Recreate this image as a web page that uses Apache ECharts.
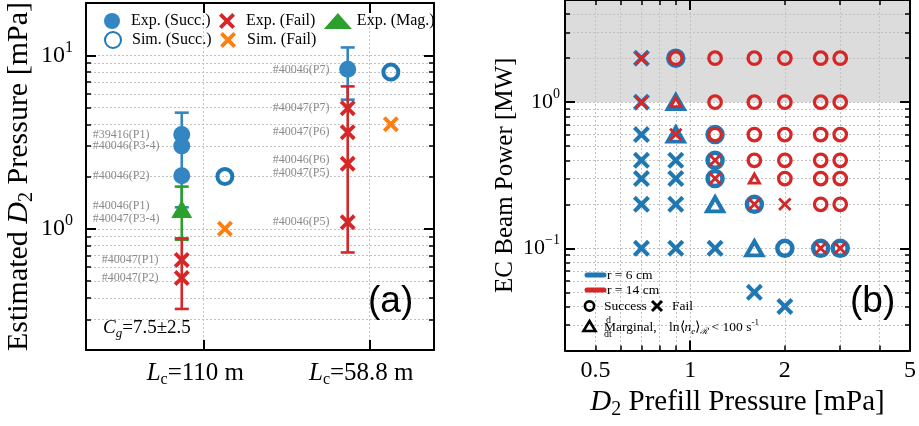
<!DOCTYPE html>
<html><head><meta charset="utf-8">
<script src="https://cdn.jsdelivr.net/npm/echarts@6.0.0/dist/echarts.min.js"></script>
<style>html,body{margin:0;padding:0;background:#fff}#c{width:919px;height:426px}</style>
</head><body><div id="c"></div>
<script>
// ---------------- Panel (a) data ----------------
const lengthCats = ['110 m', '58.8 m'];
const expSuccCat = [0, 0, 0, 1];
const expSuccVal = [3.5, 3.0, 2.02, 8.3];
const expSuccShot = ['#39416(P1)', '#40046(P3-4)', '#40046(P2)', '#40046(P7)'];
const expFailCat = [0, 0, 1, 1, 1, 1];
const expFailVal = [0.66, 0.52, 4.96, 3.6, 2.37, 1.09];
const expFailShot = ['#40047(P1)', '#40047(P2)', '#40047(P7)', '#40047(P6)', '#40046(P6)\n#40047(P5)', '#40046(P5)'];
const expMagCat = [0];
const expMagVal = [1.3];
const expMagShot = ['#40046(P1)\n#40047(P3-4)'];
const simSuccCat = [0, 1];
const simSuccVal = [2.0, 8.0];
const simFailCat = [0, 1];
const simFailVal = [1.0, 4.0];
const errBlueCat = [0, 1];
const errBlueLow = [1.33, 5.55];
const errBlueHigh = [4.67, 11.1];
const errGreenCat = [0];
const errGreenLow = [0.865];
const errGreenHigh = [1.75];
const errRedCat = [0, 1];
const errRedLow = [0.345, 0.73];
const errRedHigh = [0.88, 6.62];
const yMajorA = [1, 10];
const yMinorA = [0.2, 0.3, 0.4, 0.5, 0.6, 0.7, 0.8, 0.9, 1, 2, 3, 4, 5, 6, 7, 8, 9, 10, 20];

// ---------------- Panel (b) data ----------------
const r6SuccP = [0.9, 1.2, 1.2, 1.2, 1.6, 2.0, 2.6, 3.0];
const r6SuccW = [2, 0.6, 0.4, 0.3, 0.2, 0.1, 0.1, 0.1];
const r6FailP = [0.7, 0.7, 0.7, 0.7, 0.7, 0.7, 0.7, 0.9, 0.9, 0.9, 0.9, 1.2, 1.6, 2.0];
const r6FailW = [2, 1, 0.6, 0.4, 0.3, 0.2, 0.1, 0.4, 0.3, 0.2, 0.1, 0.1, 0.05, 0.04];
const r6MargP = [0.9, 0.9, 1.2, 1.6];
const r6MargW = [1, 0.6, 0.2, 0.1];
const r14SuccP = [0.9, 1.2, 1.2, 1.2, 1.6, 1.6, 1.6, 1.6, 2.0, 2.0, 2.0, 2.0, 2.0,
                  2.6, 2.6, 2.6, 2.6, 2.6, 2.6, 3.0, 3.0, 3.0, 3.0, 3.0, 3.0];
const r14SuccW = [2, 2, 1, 0.6, 2, 1, 0.6, 0.4, 2, 1, 0.6, 0.4, 0.3,
                  2, 1, 0.6, 0.4, 0.3, 0.2, 2, 1, 0.6, 0.4, 0.3, 0.2];
const r14FailP = [0.7, 0.7, 0.9, 1.2, 1.2, 1.6, 2.0, 2.6, 3.0];
const r14FailW = [2, 1, 0.6, 0.4, 0.3, 0.2, 0.2, 0.1, 0.1];
const r14MargP = [0.9, 1.6];
const r14MargW = [1, 0.3];
const highPowerBand = [1, 5];
const xLabelsB = [0.5, 1, 2, 5];
const xMajorB = [1];
const xMinorB = [0.5, 0.6, 0.7, 0.8, 0.9, 1, 2, 3, 4];
const yMajorB = [0.1, 1];
const yMinorB = [0.02, 0.03, 0.04, 0.05, 0.06, 0.07, 0.08, 0.09, 0.1, 0.2, 0.3, 0.4, 0.5, 0.6, 0.7, 0.8, 0.9, 1, 2, 3, 4];

// ---------------- styling ----------------
const SERIF = 'Liberation Serif';
const BLUE = '#1f77b4', BLUE_F = '#3386c2', RED = '#d62728', GREEN = '#2ca02c', ORANGE = '#ff7f0e';
const EXP_DX = -0.13, SIM_DX = 0.13;
const XPATH = 'path://M1.7,0L5,3.3L8.3,0L10,1.7L6.7,5L10,8.3L8.3,10L5,6.7L1.7,10L0,8.3L3.3,5L0,1.7Z';
const XPATH_T = 'path://M1.5,0L5,3.5L8.5,0L10,1.5L6.5,5L10,8.5L8.5,10L5,6.5L1.5,10L0,8.5L3.5,5L0,1.5Z';
const AXLINE = {show: true, onZero: false, lineStyle: {color: '#000', width: 2}};
const NOLINE = {show: false, onZero: false};
const SPLIT = {show: true, lineStyle: {color: '#c2c2c2', width: 1, type: [2, 2]}};
const NOSPLIT = {show: false};
const LABEL_DX = {succ: [-89, -75], fail: [-80, -75], mag: [-89, -75]};
const MULTILINE_DY = 3;

const zip2 = (a, b) => a.map((v, i) => [v, b[i]]);

function supFmt(v) {
  const e = Math.round(Math.log10(v));
  return '{b|10}{s|' + (e < 0 ? '\u2212' + (-e) : e) + '}';
}
function tick(vals, len, w) {
  return {show: true, inside: true, length: len, customValues: vals, lineStyle: {color: '#000', width: w}};
}

function errRender(color) {
  return function (params, api) {
    const x = api.value(0), lo = api.value(1), hi = api.value(2);
    const p1 = api.coord([x, lo]), p2 = api.coord([x, hi]);
    const cw = 7;
    const st = {stroke: color, lineWidth: 2.6};
    return {type: 'group', children: [
      {type: 'line', shape: {x1: p1[0], y1: p1[1], x2: p2[0], y2: p2[1]}, style: st},
      {type: 'line', shape: {x1: p1[0] - cw, y1: p1[1], x2: p1[0] + cw, y2: p1[1]}, style: st},
      {type: 'line', shape: {x1: p2[0] - cw, y1: p2[1], x2: p2[0] + cw, y2: p2[1]}, style: st}
    ]};
  };
}
function errSeries(cats, lo, hi, color) {
  return {
    type: 'custom', xAxisIndex: 0, yAxisIndex: 0, z: 2,
    renderItem: errRender(color),
    encode: {x: 0, y: [1, 2]},
    data: cats.map((c, i) => [c + EXP_DX, lo[i], hi[i]])
  };
}
function labeledData(cats, vals, shots, key) {
  return cats.map((c, i) => ({
    name: shots[i],
    value: [c + EXP_DX, vals[i]],
    label: {offset: [LABEL_DX[key][c], shots[i].indexOf('\n') >= 0 ? MULTILINE_DY : 0]}
  }));
}
const annLabel = {
  show: true, position: 'inside', align: 'left', verticalAlign: 'middle',
  formatter: p => p.name, color: '#8a8a8a', fontFamily: SERIF, fontSize: 12, lineHeight: 13
};

const xLabRich = {
  i: {fontFamily: SERIF, fontSize: 25, fontStyle: 'italic', color: '#000', lineHeight: 30},
  s: {fontFamily: SERIF, fontSize: 16, color: '#000', lineHeight: 16, verticalAlign: 'bottom'},
  n: {fontFamily: SERIF, fontSize: 25, color: '#000', lineHeight: 30}
};
const yLabRich = (fs) => ({
  b: {fontFamily: SERIF, fontSize: fs, color: '#000', lineHeight: fs + 8},
  s: {fontFamily: SERIF, fontSize: Math.round(fs * 0.65), color: '#000', lineHeight: Math.round(fs * 0.65), verticalAlign: 'top'}
});
const titleRich = (fs) => ({
  n: {fontFamily: SERIF, fontSize: fs, color: '#000', lineHeight: fs + 6},
  i: {fontFamily: SERIF, fontSize: fs, fontStyle: 'italic', color: '#000', lineHeight: fs + 6},
  s: {fontFamily: SERIF, fontSize: Math.round(fs * 0.68), color: '#000', lineHeight: Math.round(fs * 0.68), verticalAlign: 'bottom'}
});
const legendBase = {
  left: 104, padding: 0, itemWidth: 28, itemHeight: 16, itemGap: 8.5, selectedMode: false,
  textStyle: {fontFamily: SERIF, fontSize: 16, color: '#000'}
};

const chart = echarts.init(document.getElementById('c'), null, {renderer: 'canvas'});

const option = {
  animation: false,
  backgroundColor: '#fff',
  grid: [
    {left: 86, top: -1, width: 348, height: 351, containLabel: false},
    {left: 565, top: -0.5, width: 349, height: 351, containLabel: false}
  ],
  legend: [
    Object.assign({data: ['Exp. (Succ.)', 'Exp. (Fail)', 'Exp. (Mag.)'], top: 13}, legendBase),
    Object.assign({data: ['Sim. (Succ.)', 'Sim. (Fail)'], top: 31}, legendBase)
  ],
  xAxis: [
    {gridIndex: 0, type: 'value', min: -0.707, max: 1.39, position: 'bottom',
     axisLine: AXLINE, axisTick: tick([0, 1], 10, 2),
     axisLabel: {customValues: [0, 1], margin: 8, rich: xLabRich, padding: [0, 16, 0, 0],
       formatter: v => '{i|L}{s|c}{n|=' + lengthCats[Math.round(v)] + '}'},
     splitLine: SPLIT},
    {gridIndex: 0, type: 'value', min: -0.707, max: 1.39, position: 'top',
     axisLine: AXLINE, axisTick: tick([0, 1], 10, 2), axisLabel: {show: false}, splitLine: NOSPLIT},
    {gridIndex: 1, type: 'log', logBase: 10, min: 0.4, max: 5, position: 'bottom',
     axisLine: AXLINE, axisTick: tick(xMajorB, 10, 2),
     axisLabel: {customValues: xLabelsB, margin: 8, fontFamily: SERIF, fontSize: 24, color: '#000',
       formatter: v => String(v)},
     splitLine: SPLIT,
     name: '{i|D}{s|2}{n| Prefill Pressure [mPa]}', nameLocation: 'middle', nameGap: 33,
     nameTextStyle: {rich: titleRich(29)}},
    {gridIndex: 1, type: 'log', logBase: 10, min: 0.4, max: 5, position: 'bottom',
     axisLine: NOLINE, axisTick: tick(xMinorB, 5, 1.5), axisLabel: {show: false}, splitLine: SPLIT},
    {gridIndex: 1, type: 'log', logBase: 10, min: 0.4, max: 5, position: 'top',
     axisLine: AXLINE, axisTick: tick(xMajorB, 10, 2), axisLabel: {show: false}, splitLine: NOSPLIT},
    {gridIndex: 1, type: 'log', logBase: 10, min: 0.4, max: 5, position: 'top',
     axisLine: NOLINE, axisTick: tick(xMinorB, 5, 1.5), axisLabel: {show: false}, splitLine: NOSPLIT}
  ],
  yAxis: [
    {gridIndex: 0, type: 'log', logBase: 10, min: 0.2, max: 20, position: 'left',
     axisLine: AXLINE, axisTick: tick(yMajorA, 10, 2),
     axisLabel: {customValues: yMajorA, margin: 13, formatter: supFmt, rich: yLabRich(24)},
     splitLine: SPLIT,
     name: '{n|Estimated }{i|D}{s|2}{n| Pressure [mPa]}', nameLocation: 'middle', nameGap: 47,
     nameTextStyle: {rich: titleRich(30)}},
    {gridIndex: 0, type: 'log', logBase: 10, min: 0.2, max: 20, position: 'left',
     axisLine: NOLINE, axisTick: tick(yMinorA, 5, 1.5), axisLabel: {show: false}, splitLine: SPLIT},
    {gridIndex: 0, type: 'log', logBase: 10, min: 0.2, max: 20, position: 'right',
     axisLine: AXLINE, axisTick: tick(yMajorA, 10, 2), axisLabel: {show: false}, splitLine: NOSPLIT},
    {gridIndex: 0, type: 'log', logBase: 10, min: 0.2, max: 20, position: 'right',
     axisLine: NOLINE, axisTick: tick(yMinorA, 5, 1.5), axisLabel: {show: false}, splitLine: NOSPLIT},
    {gridIndex: 1, type: 'log', logBase: 10, min: 0.02, max: 5, position: 'left',
     axisLine: AXLINE, axisTick: tick(yMajorB, 10, 2),
     axisLabel: {customValues: yMajorB, margin: 5, formatter: supFmt, rich: yLabRich(22)},
     splitLine: SPLIT,
     name: '{n|EC Beam Power [MW]}', nameLocation: 'middle', nameGap: 44,
     nameTextStyle: {rich: titleRich(25)}},
    {gridIndex: 1, type: 'log', logBase: 10, min: 0.02, max: 5, position: 'left',
     axisLine: NOLINE, axisTick: tick(yMinorB, 5, 1.5), axisLabel: {show: false}, splitLine: SPLIT},
    {gridIndex: 1, type: 'log', logBase: 10, min: 0.02, max: 5, position: 'right',
     axisLine: AXLINE, axisTick: tick(yMajorB, 10, 2), axisLabel: {show: false}, splitLine: NOSPLIT},
    {gridIndex: 1, type: 'log', logBase: 10, min: 0.02, max: 5, position: 'right',
     axisLine: NOLINE, axisTick: tick(yMinorB, 5, 1.5), axisLabel: {show: false}, splitLine: NOSPLIT}
  ],
  series: [
    // ---- panel (a) ----
    errSeries(errBlueCat, errBlueLow, errBlueHigh, BLUE_F),
    errSeries(errGreenCat, errGreenLow, errGreenHigh, GREEN),
    errSeries(errRedCat, errRedLow, errRedHigh, RED),
    {name: 'Exp. (Succ.)', type: 'scatter', xAxisIndex: 0, yAxisIndex: 0, z: 3,
     symbol: 'circle', symbolSize: 17, itemStyle: {color: BLUE_F, opacity: 1},
     label: annLabel, data: labeledData(expSuccCat, expSuccVal, expSuccShot, 'succ')},
    {name: 'Exp. (Mag.)', type: 'scatter', xAxisIndex: 0, yAxisIndex: 0, z: 4,
     symbol: 'triangle', symbolSize: [21, 18], itemStyle: {color: GREEN, opacity: 1},
     label: annLabel, data: labeledData(expMagCat, expMagVal, expMagShot, 'mag')},
    {name: 'Exp. (Fail)', type: 'scatter', xAxisIndex: 0, yAxisIndex: 0, z: 4,
     symbol: XPATH, symbolSize: 16, itemStyle: {color: RED, opacity: 1},
     label: annLabel, data: labeledData(expFailCat, expFailVal, expFailShot, 'fail')},
    {name: 'Sim. (Succ.)', type: 'scatter', xAxisIndex: 0, yAxisIndex: 0, z: 3,
     symbol: 'circle', symbolSize: 15,
     itemStyle: {color: 'rgba(255,255,255,0)', borderColor: BLUE, borderWidth: 4, opacity: 1},
     data: simSuccCat.map((c, i) => [c + SIM_DX, simSuccVal[i]])},
    {name: 'Sim. (Fail)', type: 'scatter', xAxisIndex: 0, yAxisIndex: 0, z: 3,
     symbol: XPATH, symbolSize: 16, itemStyle: {color: ORANGE, opacity: 1},
     data: simFailCat.map((c, i) => [c + SIM_DX, simFailVal[i]])},
    // ---- panel (b) ----
    {type: 'line', xAxisIndex: 2, yAxisIndex: 4, data: [], silent: true,
     markArea: {silent: true, z: -1, itemStyle: {color: '#dcdcdc'},
       data: [[{yAxis: highPowerBand[0]}, {yAxis: highPowerBand[1]}]]}},
    {type: 'scatter', xAxisIndex: 2, yAxisIndex: 4, z: 3, symbol: 'circle', symbolSize: 15,
     itemStyle: {color: 'rgba(255,255,255,0)', borderColor: BLUE, borderWidth: 4.5, opacity: 1},
     data: zip2(r6SuccP, r6SuccW)},
    {type: 'scatter', xAxisIndex: 2, yAxisIndex: 4, z: 3, symbol: XPATH, symbolSize: 17,
     itemStyle: {color: BLUE, opacity: 1}, data: zip2(r6FailP, r6FailW)},
    {type: 'scatter', xAxisIndex: 2, yAxisIndex: 4, z: 3, symbol: 'triangle', symbolSize: [16, 14],
     itemStyle: {color: 'rgba(255,255,255,0)', borderColor: BLUE, borderWidth: 4, opacity: 1},
     data: zip2(r6MargP, r6MargW)},
    {type: 'scatter', xAxisIndex: 2, yAxisIndex: 4, z: 4, symbol: 'circle', symbolSize: 12.5,
     itemStyle: {color: 'rgba(255,255,255,0)', borderColor: RED, borderWidth: 3.3, opacity: 1},
     data: zip2(r14SuccP, r14SuccW)},
    {type: 'scatter', xAxisIndex: 2, yAxisIndex: 4, z: 4, symbol: XPATH_T, symbolSize: 13.5,
     itemStyle: {color: RED, opacity: 1}, data: zip2(r14FailP, r14FailW)},
    {type: 'scatter', xAxisIndex: 2, yAxisIndex: 4, z: 4, symbol: 'triangle', symbolSize: [10, 9],
     itemStyle: {color: 'rgba(255,255,255,0)', borderColor: RED, borderWidth: 3, opacity: 1},
     data: zip2(r14MargP, r14MargW)}
  ],
  graphic: [
    {type: 'text', x: 368, y: 302, z: 10, style: {text: '(a)', font: '37px "Liberation Sans"', fill: '#000', verticalAlign: 'middle'}},
    {type: 'text', x: 850, y: 302, z: 10, style: {text: '(b)', font: '37px "Liberation Sans"', fill: '#000', verticalAlign: 'middle'}},
    {type: 'text', x: 103, y: 328, z: 10, style: {
      text: '{i|C}{s|g}{n|=7.5\u00b12.5}', verticalAlign: 'middle',
      rich: {
        i: {fontFamily: SERIF, fontSize: 19, fontStyle: 'italic', fill: '#000', lineHeight: 24},
        s: {fontFamily: SERIF, fontSize: 13, fontStyle: 'italic', fill: '#000', lineHeight: 13, verticalAlign: 'bottom'},
        n: {fontFamily: SERIF, fontSize: 19, fill: '#000', lineHeight: 24}
      }}},
    // panel (b) legend
    {type: 'line', z: 10, shape: {x1: 587, y1: 275, x2: 604, y2: 275}, style: {stroke: BLUE, lineWidth: 5, lineCap: 'round'}},
    {type: 'text', z: 10, x: 607, y: 275, style: {text: 'r = 6 cm', font: '13.5px "Liberation Serif"', fill: '#000', verticalAlign: 'middle'}},
    {type: 'line', z: 10, shape: {x1: 587, y1: 290, x2: 604, y2: 290}, style: {stroke: RED, lineWidth: 5, lineCap: 'round'}},
    {type: 'text', z: 10, x: 607, y: 290, style: {text: 'r = 14 cm', font: '13.5px "Liberation Serif"', fill: '#000', verticalAlign: 'middle'}},
    {type: 'circle', z: 10, shape: {cx: 589.5, cy: 306, r: 4.6}, style: {fill: 'none', stroke: '#000', lineWidth: 2.6}},
    {type: 'text', z: 10, x: 604, y: 306, style: {text: 'Success', font: '13.5px "Liberation Serif"', fill: '#000', verticalAlign: 'middle'}},
    {type: 'line', z: 10, shape: {x1: 652, y1: 301, x2: 662, y2: 311}, style: {stroke: '#000', lineWidth: 3}},
    {type: 'line', z: 10, shape: {x1: 652, y1: 311, x2: 662, y2: 301}, style: {stroke: '#000', lineWidth: 3}},
    {type: 'text', z: 10, x: 672, y: 306, style: {text: 'Fail', font: '13.5px "Liberation Serif"', fill: '#000', verticalAlign: 'middle'}},
    {type: 'polygon', z: 10, shape: {points: [[589.5, 321], [595.5, 331], [583.5, 331]]}, style: {fill: 'none', stroke: '#000', lineWidth: 2.6}},
    {type: 'text', z: 10, x: 604, y: 327, style: {text: 'Marginal,', font: '13.5px "Liberation Serif"', fill: '#000', verticalAlign: 'middle'}},
    {type: 'text', z: 10, x: 606, y: 320, style: {text: 'd', font: '10px "Liberation Serif"', fill: '#000', verticalAlign: 'middle'}},
    {type: 'text', z: 10, x: 604, y: 334, style: {text: 'dt', font: '10px "Liberation Serif"', fill: '#000', verticalAlign: 'middle'}},
    {type: 'text', z: 10, x: 669, y: 327, style: {
      text: '{n|ln\u27e8}{i|n}{s|e}{n|\u27e9}{s|\u211b}{n| < 100 s}{p|-1}', verticalAlign: 'middle',
      rich: {
        n: {fontFamily: SERIF, fontSize: 13.5, fill: '#000', lineHeight: 18},
        i: {fontFamily: SERIF, fontSize: 13.5, fontStyle: 'italic', fill: '#000', lineHeight: 18},
        s: {fontFamily: SERIF, fontSize: 9, fontStyle: 'italic', fill: '#000', lineHeight: 9, verticalAlign: 'bottom'},
        p: {fontFamily: SERIF, fontSize: 9, fill: '#000', lineHeight: 9, verticalAlign: 'top'}
      }}}
  ]
};
chart.setOption(option);
</script></body></html>
